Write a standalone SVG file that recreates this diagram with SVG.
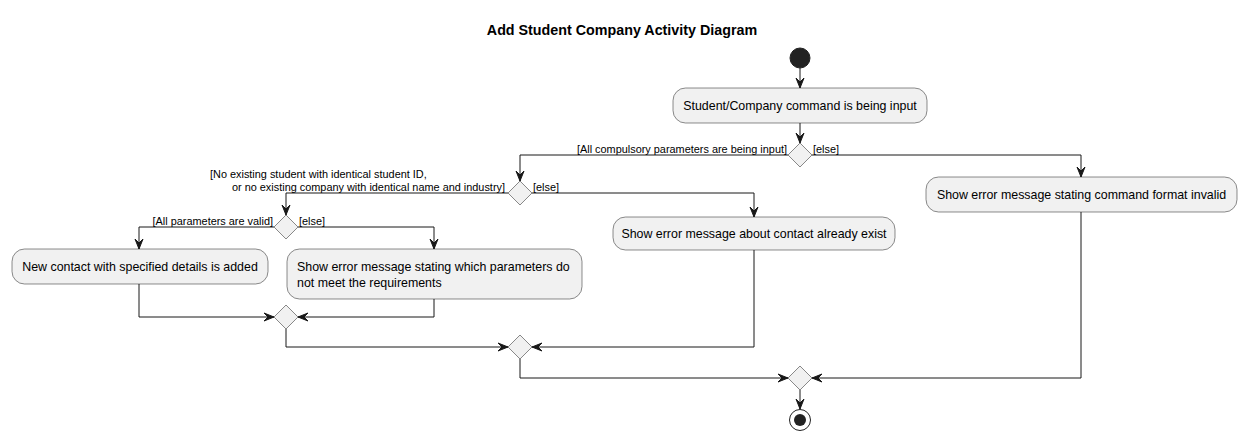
<svg xmlns="http://www.w3.org/2000/svg" width="1246" height="441" viewBox="0 0 1246 441">
<defs>
<style>
.box{fill:#F1F1F1;stroke:#181818;stroke-width:0.5}
.dia{fill:#F1F1F1;stroke:#181818;stroke-width:0.5}
.ln{fill:none;stroke:#181818;stroke-width:1}
.ah{fill:#181818;stroke:#181818;stroke-width:1}
.t{font-family:"Liberation Sans",Arial,sans-serif;font-size:12.4px;fill:#000}
.g{font-family:"Liberation Sans",Arial,sans-serif;font-size:10.9px;fill:#000}
.title{font-family:"Liberation Sans",Arial,sans-serif;font-size:14.3px;font-weight:bold;fill:#000}
</style>
</defs>
<rect width="1246" height="441" fill="#FFFFFF"/>
<text class="title" x="622" y="35" text-anchor="middle">Add Student Company Activity Diagram</text>

<g id="connectors">
<path class="ln" d="M800,68 V88"/>
<polygon class="ah" points="796,78 800,88 804,78 800,82"/>
<path class="ln" d="M800,123 V143"/>
<polygon class="ah" points="796,133 800,143 804,133 800,137"/>
<path class="ln" d="M788,155 H520 V181"/>
<polygon class="ah" points="516,171 520,181 524,171 520,175"/>
<path class="ln" d="M812,155 H1081 V177"/>
<polygon class="ah" points="1077,167 1081,177 1085,167 1081,171"/>
<path class="ln" d="M508,193 H286 V215"/>
<polygon class="ah" points="282,205 286,215 290,205 286,209"/>
<path class="ln" d="M532,193 H754 V217"/>
<polygon class="ah" points="750,207 754,217 758,207 754,211"/>
<path class="ln" d="M274,227 H139 V249"/>
<polygon class="ah" points="135,239 139,249 143,239 139,243"/>
<path class="ln" d="M298,227 H434 V249"/>
<polygon class="ah" points="430,239 434,249 438,239 434,243"/>
<path class="ln" d="M139,284 V317 H274"/>
<polygon class="ah" points="264,313 274,317 264,321 268,317"/>
<path class="ln" d="M434,299 V317 H298"/>
<polygon class="ah" points="308,313 298,317 308,321 304,317"/>
<path class="ln" d="M286,329 V347 H508"/>
<polygon class="ah" points="498,343 508,347 498,351 502,347"/>
<path class="ln" d="M754,250 V347 H532"/>
<polygon class="ah" points="542,343 532,347 542,351 538,347"/>
<path class="ln" d="M520,359 V378 H788"/>
<polygon class="ah" points="778,374 788,378 778,382 782,378"/>
<path class="ln" d="M1081,212 V378 H812"/>
<polygon class="ah" points="822,374 812,378 822,382 818,378"/>
<path class="ln" d="M800,390 V409"/>
<polygon class="ah" points="796,399 800,409 804,399 800,403"/>
</g>

<g id="start"><circle cx="800" cy="58" r="10" fill="#222222" stroke="#222222" stroke-width="1"/></g>

<g id="n-input">
<rect class="box" x="673" y="88" width="254" height="35" rx="12.5" ry="12.5"/>
<text class="t" x="800" y="110" text-anchor="middle">Student/Company command is being input</text>
</g>

<g id="d-compulsory">
<polygon class="dia" points="800,143 812,155 800,167 788,155"/>
<text class="g" x="787" y="153" text-anchor="end">[All compulsory parameters are being input]</text>
<text class="g" x="813" y="153">[else]</text>
</g>

<g id="n-format-invalid">
<rect class="box" x="926" y="177" width="311" height="35" rx="12.5" ry="12.5"/>
<text class="t" x="1081.5" y="199" text-anchor="middle">Show error message stating command format invalid</text>
</g>

<g id="d-existing">
<polygon class="dia" points="520,181 532,193 520,205 508,193"/>
<text class="g" x="210" y="178">[No existing student with identical student ID,</text>
<text class="g" x="505" y="191" text-anchor="end">or no existing company with identical name and industry]</text>
<text class="g" x="533" y="191">[else]</text>
</g>

<g id="n-already-exist">
<rect class="box" x="613" y="217" width="282" height="33" rx="12.5" ry="12.5"/>
<text class="t" x="754" y="238" text-anchor="middle">Show error message about contact already exist</text>
</g>

<g id="d-valid">
<polygon class="dia" points="286,215 298,227 286,239 274,227"/>
<text class="g" x="273" y="225" text-anchor="end">[All parameters are valid]</text>
<text class="g" x="299" y="225">[else]</text>
</g>

<g id="n-added">
<rect class="box" x="12" y="249" width="256" height="35" rx="12.5" ry="12.5"/>
<text class="t" x="140" y="271" text-anchor="middle">New contact with specified details is added</text>
</g>

<g id="n-invalid-params">
<rect class="box" x="287" y="249" width="295" height="50" rx="12.5" ry="12.5"/>
<text class="t" x="297" y="271">Show error message stating which parameters do</text>
<text class="t" x="297" y="287">not meet the requirements</text>
</g>

<g id="m1"><polygon class="dia" points="286,305 298,317 286,329 274,317"/></g>
<g id="m2"><polygon class="dia" points="520,335 532,347 520,359 508,347"/></g>
<g id="m3"><polygon class="dia" points="800,366 812,378 800,390 788,378"/></g>

<g id="end">
<circle cx="800" cy="420" r="10.5" fill="none" stroke="#222222" stroke-width="1"/>
<circle cx="800" cy="420" r="6" fill="#222222"/>
</g>
</svg>
